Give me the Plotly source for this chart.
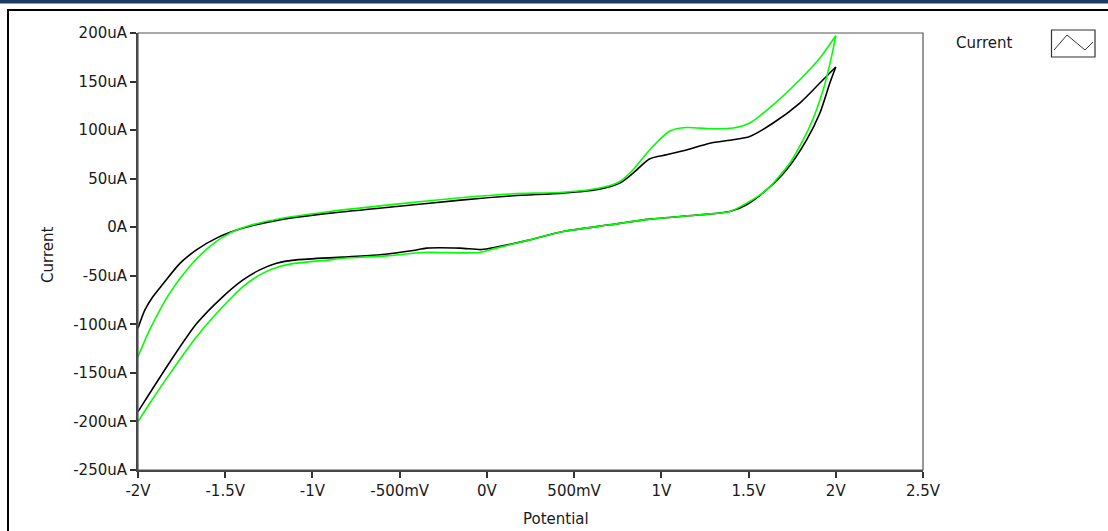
import plotly.graph_objects as go

# ---- data (Potential in V, Current in uA) ----
black_up_v = [-2.0, -1.961, -1.914, -1.857, -1.761, -1.665, -1.55, -1.398, -1.188, -0.9, -0.518, -0.136, 0.15, 0.437, 0.628, 0.762, 0.838, 0.934, 1.03, 1.145, 1.278, 1.412, 1.507, 1.641, 1.794, 1.909, 2.0]
black_up_i = [-104.0, -85.4, -71.4, -58.5, -37.5, -23.3, -11.2, -0.9, 7.6, 14.5, 21.3, 28.2, 32.4, 35.1, 38.5, 45.4, 55.7, 70.5, 74.6, 79.5, 86.5, 90.0, 93.5, 107.3, 127.9, 148.5, 165.0]

black_dn_v = [2.0, 1.966, 1.909, 1.833, 1.718, 1.603, 1.489, 1.393, 1.221, 0.934, 0.705, 0.437, 0.246, 0.055, -0.03, -0.155, -0.346, -0.423, -0.614, -0.823, -1.092, -1.206, -1.302, -1.398, -1.513, -1.665, -1.818, -1.933, -2.0]
black_dn_i = [165.0, 148.5, 117.6, 90.0, 59.2, 38.5, 23.1, 16.2, 12.8, 8.3, 2.5, -4.4, -13.0, -20.5, -23.0, -21.5, -21.5, -24.0, -28.4, -30.8, -33.6, -37.0, -43.9, -54.2, -71.4, -99.5, -139.0, -171.0, -189.9]

green_up_v = [-2.0, -1.933, -1.818, -1.704, -1.589, -1.474, -1.378, -1.188, -0.9, -0.518, -0.136, 0.15, 0.437, 0.647, 0.762, 0.838, 0.934, 1.049, 1.145, 1.278, 1.412, 1.507, 1.641, 1.794, 1.909, 2.0]
green_up_i = [-133.2, -105.7, -67.9, -40.5, -19.9, -6.1, 0.7, 8.7, 16.2, 23.8, 30.6, 34.4, 36.0, 40.3, 47.1, 59.2, 79.8, 99.0, 102.7, 101.4, 102.1, 107.3, 126.1, 151.9, 174.3, 197.2]

green_dn_v = [2.0, 1.976, 1.928, 1.851, 1.737, 1.603, 1.489, 1.393, 1.221, 0.934, 0.705, 0.437, 0.246, 0.055, -0.04, -0.365, -0.575, -0.823, -0.9, -1.092, -1.188, -1.283, -1.398, -1.513, -1.665, -1.818, -1.933, -2.0]
green_dn_i = [197.2, 175.9, 141.6, 103.8, 66.1, 38.5, 24.8, 16.2, 12.8, 8.3, 2.5, -4.4, -13.0, -21.5, -26.0, -26.0, -29.5, -31.9, -33.6, -37.0, -40.5, -47.3, -61.1, -81.7, -113.0, -151.0, -181.5, -200.2]

x_tickvals = [-2, -1.5, -1, -0.5, 0, 0.5, 1, 1.5, 2, 2.5]
x_ticktext = ["-2V", "-1.5V", "-1V", "-500mV", "0V", "500mV", "1V", "1.5V", "2V", "2.5V"]
y_tickvals = [200, 150, 100, 50, 0, -50, -100, -150, -200, -250]
y_ticktext = ["200uA", "150uA", "100uA", "50uA", "0A", "-50uA", "-100uA", "-150uA", "-200uA", "-250uA"]

FONT = "DejaVu Sans"
FS = 15
W, H = 1108, 531
L, R, T, B = 138, 185, 33, 61
PW, PH = W - L - R, H - T - B


def px(p):
    return (p - L) / PW


def py(q):
    return (H - B - q) / PH


fig = go.Figure()
for v, i, c in [(black_up_v, black_up_i, "#000000"), (black_dn_v, black_dn_i, "#000000"),
                (green_up_v, green_up_i, "#00ff00"), (green_dn_v, green_dn_i, "#00ff00")]:
    fig.add_trace(go.Scatter(x=v, y=i, mode="lines", showlegend=False, hoverinfo="skip",
                             line=dict(color=c, width=1.6, shape="spline", smoothing=0.7)))

axis_common = dict(showgrid=False, zeroline=False, showline=True, linecolor="#444444", linewidth=2,
                   ticks="outside", ticklen=6, tickwidth=1.5, tickcolor="#333333",
                   tickfont=dict(family=FONT, size=FS, color="#1a1a1a"), tickmode="array")
fig.update_xaxes(range=[-2, 2.5], tickvals=x_tickvals, ticktext=x_ticktext, **axis_common)
fig.update_yaxes(range=[-250, 200], tickvals=y_tickvals, ticktext=y_ticktext, **axis_common)

shapes = [
    # plot box border
    dict(type="rect", xref="paper", yref="paper", x0=0, x1=1, y0=0, y1=1,
         line=dict(color="#555555", width=1.2), layer="above"),
    # top navy band
    dict(type="rect", xref="paper", yref="paper", x0=px(0), x1=px(W), y0=py(0), y1=py(3.5),
         line=dict(width=0), fillcolor="#1c3a64"),
    # black frame top line
    dict(type="line", xref="paper", yref="paper", x0=px(7), x1=px(W), y0=py(10), y1=py(10),
         line=dict(color="#000000", width=2)),
    # black frame left line
    dict(type="line", xref="paper", yref="paper", x0=px(8), x1=px(8), y0=py(10), y1=py(H),
         line=dict(color="#000000", width=2)),
    # legend icon box
    dict(type="rect", xref="paper", yref="paper", x0=px(1051.5), x1=px(1095), y0=py(30), y1=py(57),
         line=dict(color="#333333", width=1.2), fillcolor="white"),
    dict(type="path", xref="paper", yref="paper",
         path="M {:.5f},{:.5f} L {:.5f},{:.5f} L {:.5f},{:.5f} L {:.5f},{:.5f}".format(
             px(1054), py(50), px(1067), py(35), px(1085), py(50), px(1093), py(42)),
         line=dict(color="#333333", width=1)),
]

annotations = [
    dict(text="Current", xref="paper", yref="paper", x=px(984), y=py(43), showarrow=False,
         font=dict(family=FONT, size=FS, color="#1a1a1a"), xanchor="center", yanchor="middle"),
    dict(text="Potential", xref="paper", yref="paper", x=px(556), y=py(519), showarrow=False,
         font=dict(family=FONT, size=FS, color="#1a1a1a"), xanchor="center", yanchor="middle"),
    dict(text="Current", xref="paper", yref="paper", x=px(48), y=py(255), showarrow=False,
         textangle=-90, font=dict(family=FONT, size=FS, color="#1a1a1a"),
         xanchor="center", yanchor="middle"),
]

fig.update_layout(width=W, height=H, margin=dict(l=L, r=R, t=T, b=B),
                  paper_bgcolor="white", plot_bgcolor="white",
                  shapes=shapes, annotations=annotations, showlegend=False)

fig.write_html("out.html", config={"displayModeBar": False},
               post_script="document.body.style.margin='0';document.body.style.overflow='hidden';")
